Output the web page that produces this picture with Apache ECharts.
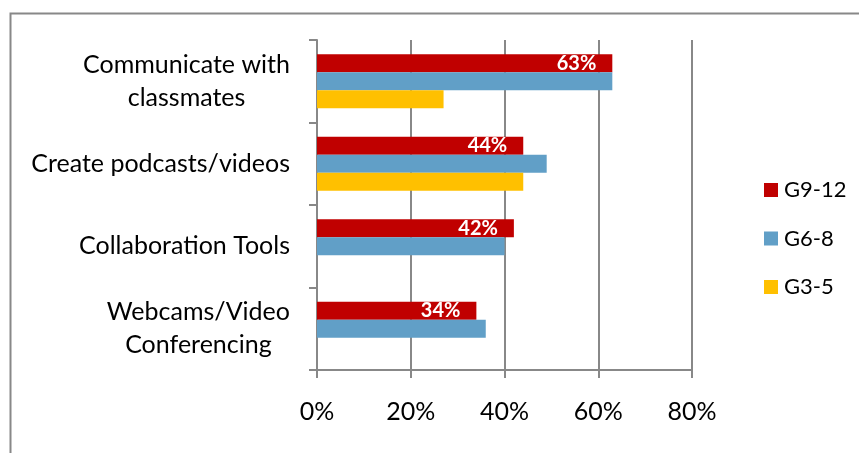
<!DOCTYPE html>
<html>
<head>
<meta charset="utf-8">
<script src="https://cdn.jsdelivr.net/npm/echarts@6/dist/echarts.min.js"></script>
<style>
  html, body { margin: 0; padding: 0; background: #fff; }
  #chart { width: 859px; height: 453px; }
</style>
</head>
<body>
<div id="chart"></div>
<script>
// Tool usage by grade band (percent of respondents)
const categories = ['Communicate with\nclassmates', 'Create podcasts/videos', 'Collaboration Tools', 'Webcams/Video\nConferencing'];
const seriesNames = ['G9-12', 'G6-8', 'G3-5'];
const g912 = [63, 44, 42, 34];
const g68 = [63, 49, 40, 36];
const g35 = [27, 44, null, null];
const xTicks = [0, 20, 40, 60, 80];

const colors = ['#C00000', '#619FC7', '#FFC000'];
const FONT = 'Lato, "Open Sans", sans-serif';

const chart = echarts.init(document.getElementById('chart'), null, { renderer: 'canvas' });

const values = [g912, g68, g35];
const series = seriesNames.map((name, i) => ({
  name: name,
  type: 'bar',
  data: values[i],
  barWidth: 18,
  barGap: '0%',
  itemStyle: { color: colors[i] },
  label: i === 0 ? {
    show: true,
    position: 'insideRight',
    distance: 16,
    formatter: '{c}%',
    color: '#fff',
    fontFamily: FONT,
    fontWeight: 'bold',
    fontSize: 20
  } : { show: false }
}));

chart.setOption({
  animation: false,
  backgroundColor: '#fff',
  textStyle: { fontFamily: FONT },
  graphic: [{
    type: 'rect',
    left: 8, top: 11,
    shape: { width: 880, height: 480 },
    style: { fill: 'none', stroke: '#888', lineWidth: 2 }
  }],
  grid: { left: 317, top: 40, width: 375, height: 330 },
  legend: {
    orient: 'vertical',
    left: 759,
    top: 174,
    itemWidth: 14,
    itemHeight: 14,
    itemGap: 26.5,
    icon: 'rect',
    data: seriesNames,
    textStyle: { fontFamily: FONT, fontSize: 22, color: '#000', lineHeight: 22, padding: [0, 0, 0, 1] }
  },
  xAxis: {
    type: 'value',
    min: xTicks[0],
    max: xTicks[xTicks.length - 1],
    interval: 20,
    axisLine: { show: true, lineStyle: { color: '#888', width: 2 } },
    axisTick: { show: true, length: 8, lineStyle: { color: '#888', width: 2 } },
    splitLine: { show: true, lineStyle: { color: '#888', width: 2 } },
    axisLabel: {
      margin: 29,
      formatter: '{value}%',
      color: '#000',
      fontFamily: FONT,
      fontSize: 25
    }
  },
  yAxis: {
    type: 'category',
    inverse: true,
    data: categories,
    axisLine: { show: true, lineStyle: { color: '#888', width: 2 } },
    axisTick: { show: true, length: 8, lineStyle: { color: '#888', width: 2 } },
    axisLabel: {
      margin: 27,
      color: '#000',
      fontFamily: FONT,
      fontSize: 25,
      lineHeight: 33,
      formatter: v => v.split('\n').map(l => '{c|' + l + '}').join('\n'),
      rich: { c: { align: 'center', fontFamily: FONT, fontSize: 25, lineHeight: 33, color: '#000' } }
    }
  },
  series: series
});
</script>
</body>
</html>
